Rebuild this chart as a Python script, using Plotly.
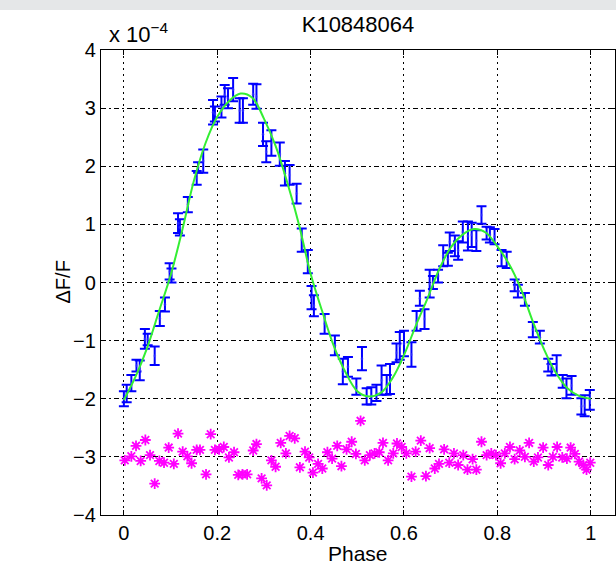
import plotly.graph_objects as go

# Observed phase-folded light curve (Delta F / F, units of 1e-4)
obs_phase = [0.000, 0.006, 0.016, 0.027, 0.034, 0.045, 0.051, 0.066, 0.077, 0.088,
             0.098, 0.102, 0.116, 0.120, 0.137, 0.156, 0.159, 0.170, 0.191, 0.195,
             0.209, 0.216, 0.223, 0.234, 0.248, 0.255, 0.277, 0.284, 0.298, 0.305,
             0.316, 0.334, 0.345, 0.355, 0.370, 0.381, 0.394, 0.402, 0.407, 0.430,
             0.452, 0.469, 0.480, 0.498, 0.510, 0.520, 0.530, 0.541, 0.552, 0.563,
             0.570, 0.584, 0.591, 0.600, 0.616, 0.627, 0.634, 0.644, 0.655, 0.662,
             0.673, 0.684, 0.694, 0.698, 0.709, 0.716, 0.726, 0.737, 0.745, 0.755,
             0.766, 0.777, 0.784, 0.794, 0.809, 0.820, 0.837, 0.844, 0.859, 0.876,
             0.891, 0.909, 0.916, 0.927, 0.940, 0.948, 0.959, 0.980, 0.987, 0.998]
obs_flux = [-2.00, -1.91, -1.73, -1.43, -1.51, -0.97, -0.98, -1.26, -0.62, -0.38,
            0.19, 0.12, 1.02, 0.95, 1.34, 1.80, 1.98, 2.09, 2.93, 2.90,
            3.02, 3.23, 3.17, 3.32, 2.96, 2.96, 3.24, 3.20, 2.55, 2.25,
            2.40, 2.21, 1.88, 1.85, 1.53, 0.73, 0.36, -0.26, -0.40, -0.71,
            -1.08, -1.53, -1.45, -1.79, -1.31, -1.96, -1.95, -1.90, -1.68, -1.76,
            -1.66, -1.21, -1.09, -1.05, -1.24, -0.66, -0.27, -0.63, -0.02, 0.00,
            0.11, 0.46, 0.40, 0.70, 0.63, 0.55, 0.87, 0.80, 0.82, 0.72,
            1.16, 0.85, 0.82, 0.79, 0.42, 0.39, -0.05, -0.15, -0.29, -0.81,
            -0.94, -1.42, -1.50, -1.42, -1.70, -1.82, -1.77, -2.13, -2.12, -2.02]
obs_err = [0.13, 0.15, 0.14, 0.10, 0.17, 0.17, 0.10, 0.16, 0.13, 0.12,
           0.14, 0.12, 0.17, 0.14, 0.13, 0.12, 0.09, 0.20, 0.21, 0.13,
           0.18, 0.17, 0.17, 0.20, 0.21, 0.21, 0.18, 0.21, 0.20, 0.18,
           0.22, 0.20, 0.21, 0.17, 0.17, 0.20, 0.20, 0.20, 0.18, 0.17,
           0.17, 0.22, 0.17, 0.14, 0.20, 0.14, 0.15, 0.14, 0.25, 0.17,
           0.26, 0.16, 0.24, 0.22, 0.21, 0.17, 0.13, 0.17, 0.24, 0.11,
           0.11, 0.18, 0.11, 0.16, 0.18, 0.16, 0.18, 0.25, 0.21, 0.18,
           0.15, 0.11, 0.13, 0.13, 0.14, 0.14, 0.10, 0.11, 0.11, 0.13,
           0.11, 0.11, 0.10, 0.17, 0.11, 0.17, 0.16, 0.14, 0.18, 0.17]

# Model fit (green curve)
model_phase = [0.000, 0.025, 0.050, 0.075, 0.100, 0.125, 0.150, 0.175, 0.200, 0.225,
               0.250, 0.275, 0.300, 0.325, 0.350, 0.375, 0.400, 0.425, 0.450, 0.475,
               0.500, 0.525, 0.550, 0.575, 0.600, 0.625, 0.650, 0.675, 0.700, 0.725,
               0.750, 0.775, 0.800, 0.825, 0.850, 0.875, 0.900, 0.925, 0.950, 0.975, 1.000]
model_flux = [-2.02, -1.62, -1.12, -0.50, 0.12, 0.90, 1.75, 2.40, 2.85, 3.12,
              3.25, 3.18, 2.82, 2.35, 1.72, 1.00, 0.15, -0.50, -1.10, -1.55,
              -1.87, -1.96, -1.90, -1.65, -1.25, -0.75, -0.28, 0.22, 0.60, 0.82,
              0.92, 0.86, 0.62, 0.32, -0.10, -0.65, -1.15, -1.55, -1.82, -1.95, -2.00]

# Residuals, drawn offset at -3
res_phase = [0.002, 0.016, 0.026, 0.036, 0.046, 0.056, 0.066, 0.076, 0.086, 0.096,
             0.107, 0.116, 0.126, 0.136, 0.145, 0.156, 0.163, 0.176, 0.186, 0.195,
             0.204, 0.214, 0.225, 0.236, 0.245, 0.254, 0.264, 0.277, 0.284, 0.295,
             0.306, 0.316, 0.325, 0.336, 0.347, 0.355, 0.366, 0.377, 0.388, 0.397,
             0.405, 0.416, 0.425, 0.436, 0.446, 0.457, 0.466, 0.477, 0.488, 0.497,
             0.507, 0.516, 0.527, 0.537, 0.547, 0.555, 0.566, 0.577, 0.585, 0.595,
             0.605, 0.616, 0.625, 0.636, 0.647, 0.655, 0.666, 0.675, 0.686, 0.697,
             0.707, 0.716, 0.727, 0.736, 0.747, 0.755, 0.766, 0.777, 0.787, 0.797,
             0.807, 0.816, 0.827, 0.837, 0.848, 0.859, 0.868, 0.878, 0.887, 0.898,
             0.909, 0.919, 0.928, 0.939, 0.949, 0.957, 0.966, 0.975, 0.984, 0.991, 0.999]
res_flux = [-3.06, -2.99, -2.81, -3.07, -2.71, -2.97, -3.46, -3.07, -3.10, -2.84,
            -3.12, -2.60, -2.91, -2.99, -3.11, -2.88, -2.88, -3.30, -2.61, -2.88,
            -2.87, -2.83, -3.01, -2.92, -3.31, -3.30, -3.30, -2.89, -2.78, -3.37,
            -3.49, -3.06, -3.17, -2.76, -2.94, -2.64, -2.68, -3.18, -2.91, -3.01,
            -3.27, -3.12, -3.20, -2.92, -3.03, -2.81, -3.16, -2.87, -2.74, -2.95,
            -2.38, -3.06, -2.97, -2.94, -2.92, -2.76, -3.06, -2.94, -2.77, -2.83,
            -2.94, -3.34, -2.91, -2.72, -3.33, -2.85, -3.20, -3.12, -2.87, -3.10,
            -2.94, -3.14, -2.97, -3.22, -3.04, -3.22, -2.74, -2.97, -2.94, -2.97,
            -3.11, -2.94, -2.83, -3.04, -2.89, -3.00, -2.76, -3.08, -3.01, -2.84,
            -3.14, -3.00, -2.83, -3.01, -3.03, -2.84, -2.95, -3.08, -3.14, -3.22, -3.10]

x_ticks = [0, 0.2, 0.4, 0.6, 0.8, 1]
y_ticks = [-4, -3, -2, -1, 0, 1, 2, 3, 4]

FONT = "Liberation Sans, Arial, Helvetica, sans-serif"

fig = go.Figure()

fig.add_trace(go.Scatter(
    x=obs_phase, y=obs_flux, mode="markers",
    marker=dict(size=3, color="rgba(80,80,255,0.45)"),
    error_y=dict(type="data", array=obs_err, visible=True,
                 color="#0000ff", thickness=2, width=5),
    showlegend=False, hoverinfo="skip"))

fig.add_trace(go.Scatter(
    x=model_phase, y=model_flux, mode="lines",
    line=dict(color="#33ee33", width=2, shape="spline", smoothing=1.0),
    showlegend=False, hoverinfo="skip"))

fig.add_trace(go.Scatter(
    x=res_phase, y=res_flux, mode="markers",
    marker=dict(symbol="asterisk-open", size=9, color="#ff00ff",
                line=dict(color="#ff00ff", width=1.8)),
    showlegend=False, hoverinfo="skip"))

fig.update_layout(
    width=616, height=567,
    margin=dict(l=101, r=1, t=50, b=52),
    paper_bgcolor="white", plot_bgcolor="white",
    font=dict(family=FONT, size=20, color="black"),
    title=dict(text="K10848064", x=(358) / 616, xanchor="center",
               y=1 - 24 / 567, yanchor="middle",
               font=dict(family=FONT, size=22, color="black")),
    xaxis=dict(range=[-0.049, 1.052], tickvals=x_ticks,
               ticktext=[("%g" % v) for v in x_ticks],
               showline=True, mirror="all", linecolor="black", linewidth=1.2,
               ticks="inside", ticklen=5, tickcolor="black",
               showgrid=True, gridcolor="#000000", gridwidth=1.2, griddash="2px,4px",
               zeroline=False, tickfont=dict(size=20)),
    yaxis=dict(range=[-4, 4], tickvals=y_ticks,
               ticktext=[("\u2212%d" % -v) if v < 0 else "%d" % v for v in y_ticks],
               showline=True, mirror="all", linecolor="black", linewidth=1.2,
               ticks="inside", ticklen=5, tickcolor="black",
               showgrid=True, gridcolor="#000000", gridwidth=1.2,
               griddash="5px,3px,2px,3px",
               zeroline=False, tickfont=dict(size=20)),
    shapes=[dict(type="rect", xref="paper", yref="paper",
                 x0=-101 / 514, x1=1 + 1 / 514,
                 y0=1 + 40 / 465, y1=1 + 50 / 465,
                 fillcolor="#e5e7e8", line=dict(width=0), layer="below")],
    annotations=[
        dict(text="x 10<sup>\u22124</sup>", xref="paper", yref="paper",
             x=6 / 514, y=1 + 17 / 465, xanchor="left", yanchor="middle",
             showarrow=False, font=dict(family=FONT, size=22)),
        dict(text="Phase", xref="paper", yref="paper",
             x=0.5 - 0 / 514, y=-38 / 465, xanchor="center", yanchor="middle",
             showarrow=False, font=dict(family=FONT, size=21)),
        dict(text="\u0394F/F", xref="paper", yref="paper",
             x=-39 / 514, y=0.5, xanchor="center", yanchor="middle",
             textangle=-90, showarrow=False, font=dict(family=FONT, size=20)),
    ],
)

fig.write_html("out.html")
